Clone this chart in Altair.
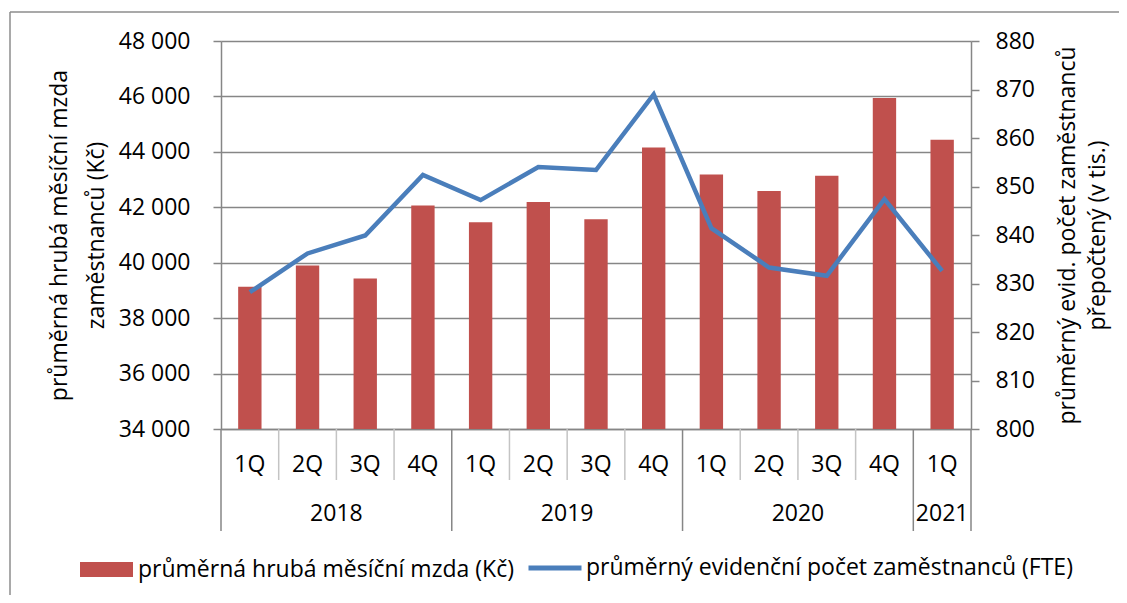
import altair as alt
import pandas as pd

# ---- data ----
period_year = ["2018", "2018", "2018", "2018", "2019", "2019", "2019", "2019",
               "2020", "2020", "2020", "2020", "2021"]
period_quarter = ["1Q", "2Q", "3Q", "4Q", "1Q", "2Q", "3Q", "4Q",
                  "1Q", "2Q", "3Q", "4Q", "1Q"]
wage = [39130, 39900, 39430, 42060, 41460, 42190, 41570, 44160,
        43180, 42590, 43140, 45940, 44440]
employees = [828.2, 836.2, 839.9, 852.4, 847.2, 854.0, 853.4, 869.0,
             841.4, 833.3, 831.6, 847.4, 832.6]
wage_ticks = [34000, 36000, 38000, 40000, 42000, 44000, 46000, 48000]
emp_ticks = [800, 810, 820, 830, 840, 850, 860, 870, 880]
wage_label = "průměrná hrubá měsíční mzda (Kč)"
emp_label = "průměrný evidenční počet zaměstnanců (FTE)"
wage_title = ["průměrná hrubá měsíční mzda", "zaměstnanců (Kč)"]
emp_title = ["průměrný evid. počet zaměstnanců", "přepočtený (v tis.)"]

FONT = "Open Sans"
GRAY = "#868686"
LIGHT = "#c4c4c4"
BAR = "#C0504D"
LINE = "#4A7EBB"

keys = [f"{y} {q}" for y, q in zip(period_year, period_quarter)]
df = pd.DataFrame({"key": keys, "year": period_year, "quarter": period_quarter,
                   "wage": wage, "emp": employees,
                   "s1": wage_label, "s2": emp_label})

# separators of the two-level category axis
qsep = pd.DataFrame({"key": [k for k, q in zip(keys, period_quarter) if q != "1Q"]})
ysep = pd.DataFrame({"key": [k for k, q in zip(keys, period_quarter) if q == "1Q"]})
yend = pd.DataFrame({"key": [keys[-1]]})

# year label anchors
even_rows, odd_rows = [], []
for yr in dict.fromkeys(period_year):
    ks = [k for k, y in zip(keys, period_year) if y == yr]
    n = len(ks)
    if n % 2 == 0:
        even_rows.append({"key": ks[n // 2], "year": yr})
    else:
        odd_rows.append({"key": ks[n // 2], "year": yr})
year_even = pd.DataFrame(even_rows)
year_odd = pd.DataFrame(odd_rows)

xscale = alt.Scale(domain=keys, paddingInner=0, paddingOuter=0)

one = pd.DataFrame({"a": [0]})
frame_left = alt.Chart(one).mark_rule(color="#8c8c8c", strokeWidth=1.5).encode(
    x=alt.value(-211), y=alt.value(-29), y2=alt.value(700))
frame_top = alt.Chart(one).mark_rule(color="#8c8c8c", strokeWidth=1.5).encode(
    x=alt.value(-211), x2=alt.value(1000), y=alt.value(-29))

bars = alt.Chart(df).mark_bar(width=alt.RelativeBandSize(0.405), clip=True).encode(
    x=alt.X("key:N", scale=xscale, sort=keys, title=None,
            axis=alt.Axis(labelExpr="split(datum.value, ' ')[1]", labelAngle=0,
                          ticks=False, domainColor=GRAY, domainWidth=1.5,
                          labelPadding=35, labelBaseline="middle", grid=False)),
    y=alt.Y("wage:Q", scale=alt.Scale(domain=[34000, 48000], zero=False, nice=False),
            axis=alt.Axis(orient="left", values=wage_ticks, title=wage_title,
                          labelExpr="replace(format(datum.value, ','), ',', ' ')",
                          grid=True, gridColor=GRAY, gridWidth=1.5,
                          domainColor=GRAY, domainWidth=1.5,
                          tickColor=GRAY, tickWidth=1.5, tickSize=8, labelPadding=23,
                          titleAngle=270, titleX=-162, titleY=194,
                          titleAlign="center", titleBaseline="middle",
                          titleLineHeight=37)),
    fill=alt.Fill("s1:N", scale=alt.Scale(range=[BAR]),
                  legend=alt.Legend(orient="none", legendX=-141, legendY=502,
                                    title=None, padding=0, labelOffset=5,
                                    symbolType="M-1,-0.28H1V0.28H-1Z",
                                    symbolSize=2809, symbolStrokeWidth=0)),
)

line = alt.Chart(df).mark_line(strokeWidth=4.5).encode(
    x=alt.X("key:N", scale=xscale, sort=keys, title=None),
    y=alt.Y("emp:Q", scale=alt.Scale(domain=[800, 880], zero=False, nice=False),
            axis=alt.Axis(orient="right", values=emp_ticks, title=emp_title,
                          grid=False, domainColor=GRAY, domainWidth=1.5,
                          tickColor=GRAY, tickWidth=1.5, tickSize=8, labelPadding=16,
                          titleAngle=270, titleX=96, titleY=194,
                          titleAlign="center", titleBaseline="middle",
                          titleLineHeight=30)),
    stroke=alt.Stroke("s2:N", scale=alt.Scale(range=[LINE]),
                      legend=alt.Legend(orient="none", legendX=305, legendY=498,
                                        title=None, padding=0, labelOffset=2,
                                        symbolType="stroke", symbolSize=2809,
                                        symbolStrokeWidth=5)),
)

qrules = alt.Chart(qsep).mark_rule(color=LIGHT, strokeWidth=1.5).encode(
    x=alt.X("key:N", scale=xscale, sort=keys, bandPosition=0, title=None),
    y=alt.value(388), y2=alt.value(439))
yrules = alt.Chart(ysep).mark_rule(color=GRAY, strokeWidth=1.5).encode(
    x=alt.X("key:N", scale=xscale, sort=keys, bandPosition=0, title=None),
    y=alt.value(388), y2=alt.value(490))
erules = alt.Chart(yend).mark_rule(color=GRAY, strokeWidth=1.5).encode(
    x=alt.X("key:N", scale=xscale, sort=keys, bandPosition=1, title=None),
    y=alt.value(388), y2=alt.value(490))

ytext_even = alt.Chart(year_even).mark_text(font=FONT, fontSize=23, color="black",
                                            baseline="middle").encode(
    x=alt.X("key:N", scale=xscale, sort=keys, bandPosition=0, title=None),
    y=alt.value(473), text="year:N")
ytext_odd = alt.Chart(year_odd).mark_text(font=FONT, fontSize=23, color="black",
                                          baseline="middle").encode(
    x=alt.X("key:N", scale=xscale, sort=keys, bandPosition=0.5, title=None),
    y=alt.value(473), text="year:N")

chart = alt.layer(
    frame_left, frame_top, bars, line, qrules, yrules, erules, ytext_even, ytext_odd
).resolve_scale(y="independent").properties(
    width=750, height=388,
    autosize=alt.AutoSizeParams(type="none"),
    padding={"left": 213, "top": 33, "right": 148, "bottom": 166},
).configure_view(stroke="transparent").configure_axis(
    labelFont=FONT, labelFontSize=23, labelColor="black",
    titleFont=FONT, titleFontSize=23, titleColor="black", titleFontWeight="normal",
).configure_legend(
    labelFont=FONT, labelFontSize=23, labelColor="black", labelLimit=0,
)

chart.save("out.html", embed_options={"renderer": "svg", "actions": False})
